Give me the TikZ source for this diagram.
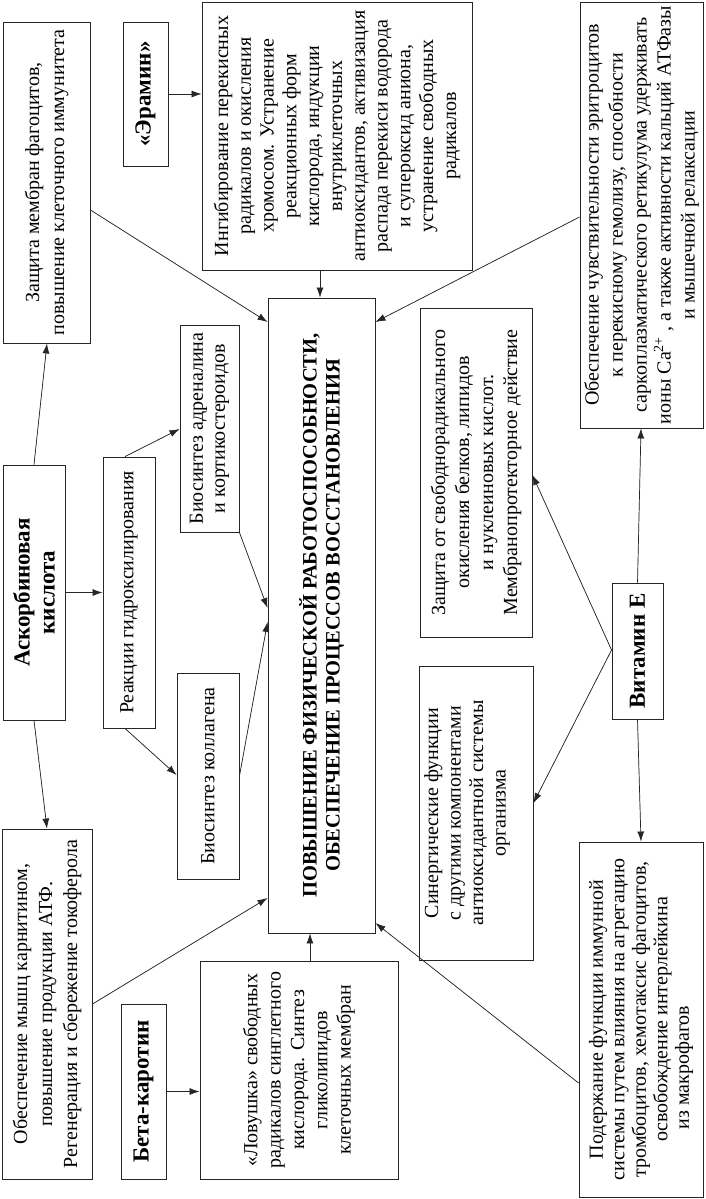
\documentclass[tikz,border=0pt]{standalone}
\usepackage{fontspec}
\setmainfont{Liberation Serif}
\usetikzlibrary{arrows.meta}
\newcommand{\rt}[3][23]{\rotatebox{90}{\parbox{#2}{\centering\fontsize{20}{#1}\selectfont #3}}}
\newcommand{\bt}[3][25]{\rotatebox{90}{\parbox{#2}{\centering\fontsize{23}{#1}\selectfont\bfseries #3}}}
\tikzset{
  bx/.style={draw=black!85, line width=0.9pt, inner sep=0pt, align=center},
  arr/.style={-{Latex[length=10pt,width=7pt]}, line width=0.7pt, draw=black!85, fill=black!85},
}
\begin{document}
\begin{tikzpicture}[x=1pt,y=-1pt]
\useasboundingbox[fill=white] (0,0) rectangle (705,1199);

% left top
\node[bx, minimum width=87pt, minimum height=321pt] (zash) at (46.5,182.5)
  {\rt[25]{321pt}{Защита мембран фагоцитов,\\повышение клеточного иммунитета}};
\node[bx, minimum width=45pt, minimum height=144pt] (er) at (145.5,94)
  {\bt{144pt}{«Эрамин»}};
\node[bx, minimum width=270pt, minimum height=268pt] (ing) at (337,136)
  {\rt[22.8]{268pt}{Ингибирование перекисных\\радикалов и окисления\\хромосом. Устранение\\реакционных форм\\кислорода, индукции\\внутриклеточных\\антиоксидантов, активизация\\распада перекиси водорода\\и супероксид аниона,\\устранение свободных\\радикалов}};
\node[bx, minimum width=123pt, minimum height=426pt] (tr) at (641.5,215)
  {\rt[24]{426pt}{Обеспечение чувствительности эритроцитов\\к перекисному гемолизу, способности\\саркоплазматического ретикулума удерживать\\ионы Ca\textsuperscript{2+} , а также активности кальций АТФазы\\и мышечной релаксации}};

% middle left
\node[bx, minimum width=62pt, minimum height=255pt] (asc) at (34,592.5)
  {\bt{255pt}{Аскорбиновая\\кислота}};
\node[bx, minimum width=52pt, minimum height=271pt] (reak) at (129,592.5)
  {\rt{271pt}{Реакции гидроксилирования}};
\node[bx, minimum width=59pt, minimum height=207pt] (adr) at (209.5,428.5)
  {\rt[22]{207pt}{Биосинтез адреналина\\и кортикостероидов}};
\node[bx, minimum width=62pt, minimum height=206pt] (kol) at (208,776)
  {\rt{206pt}{Биосинтез коллагена}};

% main
\node[bx, minimum width=107pt, minimum height=635pt] (main) at (321.5,615.5)
  {\rotatebox{90}{\parbox{635pt}{\centering\fontsize{20.5}{23}\selectfont\bfseries ПОВЫШЕНИЕ ФИЗИЧЕСКОЙ РАБОТОСПОСОБНОСТИ,\\ОБЕСПЕЧЕНИЕ ПРОЦЕССОВ ВОССТАНОВЛЕНИЯ}}};

% right
\node[bx, minimum width=112pt, minimum height=329pt] (zsv) at (476,472.5)
  {\rt[24]{329pt}{Защита от свободнорадикального\\окисления белков, липидов\\и нуклеиновых кислот.\\Мембранопротекторное действие}};
\node[bx, minimum width=114pt, minimum height=294pt] (syn) at (476,813)
  {\rt[22.5]{294pt}{Синергические функции\\с другими компонентами\\антиоксидантной системы\\организма}\hspace*{18pt}};
\node[bx, minimum width=51pt, minimum height=136pt] (vit) at (637.5,651)
  {\bt{136pt}{Витамин Е}};
\node[bx, minimum width=124pt, minimum height=355pt] (pod) at (641,1019.5)
  {\rt[21.5]{355pt}{Подержание функции иммунной\\системы путем влияния на агрегацию\\тромбоцитов, хемотаксис фагоцитов,\\освобождение интерлейкина\\из макрофагов\hspace*{96pt}}};

% bottom left
\node[bx, minimum width=90pt, minimum height=350pt] (obm) at (47,1004)
  {\rt[25]{350pt}{Обеспечение мышц карнитином,\\повышение продукции АТФ.\\Регенерация и сбережение токоферола}};
\node[bx, minimum width=45pt, minimum height=175pt] (beta) at (143.5,1091.5)
  {\bt{175pt}{Бета-каротин}};
\node[bx, minimum width=198pt, minimum height=218pt] (lov) at (299,1070)
  {\rt[23.3]{218pt}{«Ловушка» свободных\\радикалов синглетного\\кислорода. Синтез\\гликолипидов\\клеточных мембран}};

% arrows
\draw[arr] (asc.north) -- (zash.south -| 47,0);
\draw[arr] (asc.south) -- (obm.north -| 47,0);
\draw[arr] (asc.east) -- (asc.east -| reak.west);
\draw[arr] (reak.north -| 125,0) -- (adr.west |- 0,429);
\draw[arr] (reak.south -| 125,0) -- (kol.west |- 0,775);
\draw[arr] (adr.south east) -- (main.west |- 0,608);
\draw[arr] (kol.east) -- (main.west |- 0,622);
\draw[arr] (zash.east |- 0,210) -- (main.west |- 0,322);
\draw[arr] (er.east) -- (er.east -| ing.west);
\draw[arr] (ing.south -| 320,0) -- (main.north -| 320,0);
\draw[arr] (tr.west |- 0,217) -- (main.east |- 0,322);
\draw[arr] (vit.north) -- (tr.south -| 641,0);
\draw[arr] (vit.west |- 0,650) -- (zsv.east |- 0,475);
\draw[arr] (vit.west |- 0,650) -- (syn.east |- 0,803);
\draw[arr] (vit.south) -- (pod.north -| 641,0);
\draw[arr] (pod.west |- 0,1083) -- (main.east |- 0,923);
\draw[arr] (obm.east) -- (main.west |- 0,898);
\draw[arr] (beta.east) -- (beta.east -| lov.west);
\draw[arr] (lov.north -| 310,0) -- (main.south -| 310,0);
\end{tikzpicture}
\end{document}
